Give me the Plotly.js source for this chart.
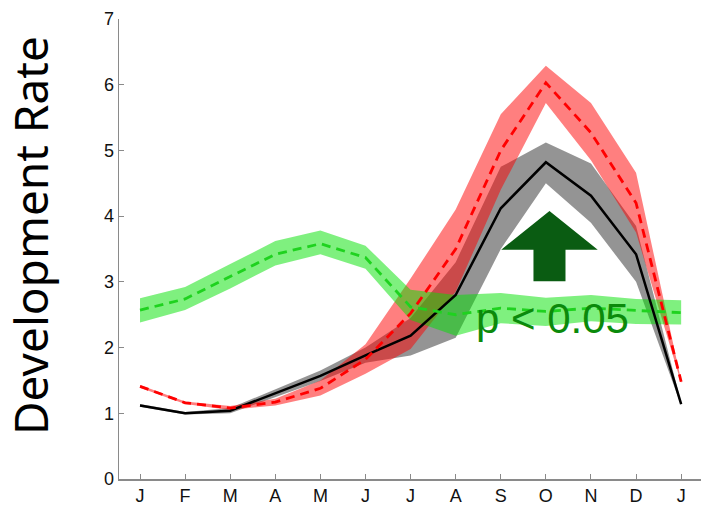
<!DOCTYPE html>
<html>
<head>
<meta charset="utf-8">
<script src="https://cdn.plot.ly/plotly-3.0.1.min.js"></script>
<style>
  html, body { margin: 0; padding: 0; background: #fff; }
  #chart { width: 701px; height: 505px; }
</style>
</head>
<body>
<div id="chart"></div>
<script>
// Month labels (January through the following January)
const months = ['J', 'F', 'M', 'A', 'M', 'J', 'J', 'A', 'S', 'O', 'N', 'D', 'J'];
const yTicks = [0, 1, 2, 3, 4, 5, 6, 7];

// Black series: mean with grey spread
const blackMean  = [1.12, 1.00, 1.04, 1.30, 1.57, 1.88, 2.18, 2.80, 4.12, 4.82, 4.31, 3.42, 1.14];
const blackLower = [1.10, 0.98, 1.00, 1.24, 1.49, 1.77, 1.88, 2.15, 3.50, 4.50, 3.90, 3.00, 1.12];
const blackUpper = [1.14, 1.02, 1.08, 1.36, 1.65, 2.00, 2.45, 3.30, 4.75, 5.12, 4.80, 3.85, 1.16];

// Red series: mean with red spread
const redMean  = [1.41, 1.16, 1.08, 1.17, 1.38, 1.82, 2.52, 3.50, 5.00, 6.03, 5.27, 4.20, 1.48];
const redLower = [1.39, 1.14, 1.05, 1.12, 1.27, 1.60, 1.98, 2.85, 4.40, 5.72, 4.85, 3.75, 1.46];
const redUpper = [1.43, 1.18, 1.11, 1.22, 1.50, 2.05, 3.05, 4.10, 5.55, 6.29, 5.72, 4.66, 1.50];

// Green series: mean with green spread
const greenMean  = [2.57, 2.74, 3.08, 3.42, 3.58, 3.37, 2.62, 2.50, 2.60, 2.55, 2.60, 2.56, 2.53];
const greenLower = [2.38, 2.57, 2.90, 3.25, 3.42, 3.20, 2.42, 2.18, 2.37, 2.33, 2.40, 2.36, 2.35];
const greenUpper = [2.75, 2.92, 3.27, 3.62, 3.78, 3.55, 2.88, 2.80, 2.83, 2.76, 2.80, 2.74, 2.72];

const significanceLabel = 'p < 0.05';
const axisTitle = 'Development Rate';

const xs = months.map((_, i) => i);

function band(lower, upper, fill) {
  return [
    { x: xs, y: lower, type: 'scatter', mode: 'lines', line: { width: 0 }, hoverinfo: 'skip', showlegend: false },
    { x: xs, y: upper, type: 'scatter', mode: 'lines', line: { width: 0 }, fill: 'tonexty', fillcolor: fill, hoverinfo: 'skip', showlegend: false }
  ];
}

const traces = [
  ...band(blackLower, blackUpper, 'rgba(60,60,60,0.55)'),
  ...band(redLower, redUpper, 'rgba(255,0,0,0.5)'),
  ...band(greenLower, greenUpper, 'rgba(0,225,0,0.5)'),
  { x: xs, y: blackMean, type: 'scatter', mode: 'lines', line: { color: '#000000', width: 2.5 }, showlegend: false },
  { x: xs, y: redMean, type: 'scatter', mode: 'lines', line: { color: '#ff0000', width: 2.8, dash: '9px,6px' }, showlegend: false },
  { x: xs, y: greenMean, type: 'scatter', mode: 'lines', line: { color: '#1fd21f', width: 2.8, dash: '9px,6px' }, showlegend: false }
];

// Upward arrow marking the significant increase (data coordinates)
const ax = 9.08, headHalf = 1.07, shaftHalf = 0.355;
const tipY = 4.08, baseY = 3.49, footY = 3.01;
const arrowPath = [
  `M ${ax} ${tipY}`,
  `L ${ax + headHalf} ${baseY}`,
  `L ${ax + shaftHalf} ${baseY}`,
  `L ${ax + shaftHalf} ${footY}`,
  `L ${ax - shaftHalf} ${footY}`,
  `L ${ax - shaftHalf} ${baseY}`,
  `L ${ax - headHalf} ${baseY}`,
  'Z'
].join(' ');

const layout = {
  width: 701,
  height: 505,
  margin: { l: 119, r: 0, t: 19, b: 26 },
  paper_bgcolor: '#ffffff',
  plot_bgcolor: '#ffffff',
  font: { family: 'Arial, "Liberation Sans", sans-serif', color: '#111111' },
  xaxis: {
    range: [-0.466, 12.44],
    tickvals: xs,
    ticktext: months,
    showgrid: false,
    zeroline: false,
    showline: true,
    linecolor: '#8a8a8a',
    linewidth: 1.5,
    ticks: 'inside',
    ticklen: 5,
    tickcolor: '#8a8a8a',
    tickfont: { size: 18, color: '#111111' }
  },
  yaxis: {
    range: [0, 7],
    tickvals: yTicks,
    showgrid: false,
    zeroline: false,
    showline: true,
    linecolor: '#8a8a8a',
    linewidth: 1.5,
    ticks: 'inside',
    ticklen: 5,
    tickcolor: '#8a8a8a',
    tickfont: { size: 18, color: '#111111' }
  },
  shapes: [
    { type: 'path', xref: 'x', yref: 'y', path: arrowPath, fillcolor: '#0a5c12', line: { width: 0 } }
  ],
  annotations: [
    {
      text: significanceLabel,
      xref: 'x', yref: 'y', x: 9.14, y: 2.45,
      xanchor: 'center', yanchor: 'middle',
      showarrow: false,
      font: { family: 'Arial, "Liberation Sans", sans-serif', size: 42, color: '#0b8a0b' }
    },
    {
      text: axisTitle,
      xref: 'paper', yref: 'paper', x: 0, y: 0.5,
      xshift: -89, yshift: 13,
      xanchor: 'center', yanchor: 'middle',
      textangle: -90,
      showarrow: false,
      font: { family: '"Comic Sans MS", "Noto Sans", sans-serif', size: 46, color: '#000000' }
    }
  ],
  showlegend: false
};

Plotly.newPlot('chart', traces, layout, { staticPlot: true, displayModeBar: false });
</script>
</body>
</html>
